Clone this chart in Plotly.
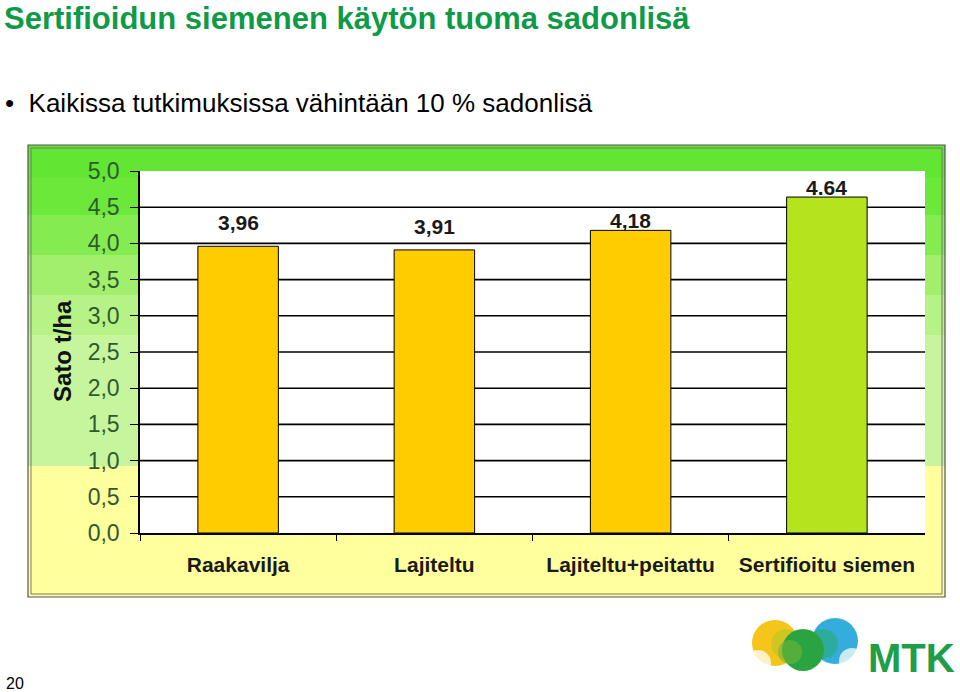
import plotly.graph_objects as go

# ---- data ----
categories = ["Raakavilja", "Lajiteltu", "Lajiteltu+peitattu", "Sertifioitu siemen"]
yields = [3.96, 3.91, 4.18, 4.64]
value_labels = ["3,96", "3,91", "4,18", "4.64"]
bar_colors = ["#FFCC00", "#FFCC00", "#FFCC00", "#B5E41F"]
y_tickvals = [0.0, 0.5, 1.0, 1.5, 2.0, 2.5, 3.0, 3.5, 4.0, 4.5, 5.0]
y_ticktext = ["0,0", "0,5", "1,0", "1,5", "2,0", "2,5", "3,0", "3,5", "4,0", "4,5", "5,0"]
grid_vals = [0.5, 1.0, 1.5, 2.0, 2.5, 3.0, 3.5, 4.0, 4.5]

title_text = "Sertifioidun siemenen käytön tuoma sadonlisä"
bullet_text = "•  Kaikissa tutkimuksissa vähintään 10 % sadonlisä"
y_title = "Sato t/ha"
page_no = "20"

W, H = 960, 692

# label offsets above bars (style)
label_shifts = [10, 10, -4, -4]


def px(x):
    return x / W


def py(y):
    return 1 - y / H


fig = go.Figure()
fig.add_trace(go.Bar(
    x=categories, y=yields,
    marker=dict(color=bar_colors, line=dict(color="#000000", width=1)),
    width=0.41,
    hoverinfo="skip",
))

shapes = []
# chart picture background bands (green to pale yellow)
bands = [
    (145, 178, "#63E533"),
    (178, 215, "#6CE83A"),
    (215, 255, "#84EC50"),
    (255, 295, "#A2EF6E"),
    (295, 335, "#B6F285"),
    (335, 466, "#C6F59E"),
    (466, 597, "#FFFF9E"),
]
for y0, y1, c in bands:
    shapes.append(dict(type="rect", xref="paper", yref="paper",
                       x0=px(28), x1=px(945), y0=py(y1), y1=py(y0),
                       fillcolor=c, line=dict(width=0), layer="below"))
# white plot area
shapes.append(dict(type="rect", xref="x domain", yref="y domain",
                   x0=0, x1=1, y0=0, y1=1, fillcolor="#FFFFFF",
                   line=dict(width=0), layer="below"))
# gridlines
for g in grid_vals:
    shapes.append(dict(type="line", xref="x domain", yref="y",
                       x0=0, x1=1, y0=g, y1=g,
                       line=dict(color="#000000", width=1.6), layer="below"))
# picture frame (double line)
shapes.append(dict(type="rect", xref="paper", yref="paper",
                   x0=px(28), x1=px(945), y0=py(597), y1=py(145),
                   line=dict(color="#555555", width=1.2), fillcolor="rgba(0,0,0,0)"))
shapes.append(dict(type="rect", xref="paper", yref="paper",
                   x0=px(31), x1=px(942), y0=py(594), y1=py(148),
                   line=dict(color="#777777", width=1), fillcolor="rgba(0,0,0,0)"))


# MTK logo (approximation)
def circle(cx, cy, r, color, op=1.0):
    return dict(type="circle", xref="paper", yref="paper",
                x0=px(cx - r), x1=px(cx + r), y0=py(cy + r), y1=py(cy - r),
                fillcolor=color, line=dict(width=0), opacity=op, layer="above")


shapes += [
    circle(775, 643, 23, "#F6C519"),
    circle(786, 644, 15, "#C6C526", 0.8),
    circle(835, 641, 23, "#35ADDC"),
    circle(823, 644, 15, "#2CAB8E", 0.8),
    circle(803, 650, 21, "#2AA441"),
    circle(790, 652, 12, "#74B535", 0.6),
    circle(758, 663, 13, "#FFFFFF", 0.75),
    circle(852, 661, 13, "#FFFFFF", 0.75),
]

annotations = [
    dict(text=title_text, x=px(3), y=1.0, xref="paper", yref="paper",
         xanchor="left", yanchor="top", showarrow=False, borderpad=0,
         font=dict(family="Liberation Sans, Arial", size=31, color="#0E9A47", weight="bold")),
    dict(text=bullet_text, x=px(3), y=py(103), xref="paper", yref="paper",
         xanchor="left", yanchor="middle", showarrow=False,
         font=dict(family="Liberation Sans, Arial", size=26, color="#000000")),
    dict(text=y_title, x=px(62), y=py(351), xref="paper", yref="paper",
         xanchor="center", yanchor="middle", showarrow=False, textangle=-90,
         font=dict(family="Liberation Sans, Arial", size=24, color="#111111", weight="bold")),
    dict(text=page_no, x=px(4), y=py(683), xref="paper", yref="paper",
         xanchor="left", yanchor="middle", showarrow=False,
         font=dict(family="Liberation Sans, Arial", size=16, color="#000000")),
    dict(text="MTK", x=px(866), y=py(658), xref="paper", yref="paper",
         xanchor="left", yanchor="middle", showarrow=False,
         font=dict(family="Liberation Sans, Arial", size=40, color="#1E9E48", weight="bold")),
]
for cat, v, lab, sh in zip(categories, yields, value_labels, label_shifts):
    annotations.append(dict(text=lab, x=cat, y=v, xref="x", yref="y",
                            xanchor="center", yanchor="bottom", yshift=sh,
                            showarrow=False,
                            font=dict(family="Liberation Sans Narrow, Arial Narrow, Liberation Sans",
                                      size=21, color="#1A1A1A", weight="bold")))

fig.update_layout(
    width=W, height=H,
    margin=dict(l=0, r=0, t=0, b=0, autoexpand=False),
    paper_bgcolor="#FFFFFF",
    plot_bgcolor="#FFFFFF",
    showlegend=False,
    shapes=shapes,
    annotations=annotations,
    xaxis=dict(
        domain=[px(140), px(925)],
        type="category",
        automargin=False,
        showgrid=False,
        showline=True, linecolor="#000000", linewidth=1.5,
        ticks="outside", tickson="boundaries", ticklen=6, tickcolor="#000000", tickwidth=1,
        ticklabelstandoff=12,
        tickfont=dict(family="Liberation Sans, Arial", size=21, color="#1A1A1A", weight="bold"),
        fixedrange=True,
    ),
    yaxis=dict(
        domain=[py(533), py(171)],
        range=[0, 5.0],
        automargin=False,
        tickvals=y_tickvals, ticktext=y_ticktext,
        showgrid=False, zeroline=False,
        showline=True, linecolor="#000000", linewidth=1.5,
        ticks="outside", ticklen=8, tickcolor="#000000", tickwidth=1.2,
        ticklabelstandoff=6,
        tickfont=dict(family="Liberation Sans, Arial", size=23, color="#2F5A2F"),
        fixedrange=True,
    ),
)

fig.write_html("out.html")
